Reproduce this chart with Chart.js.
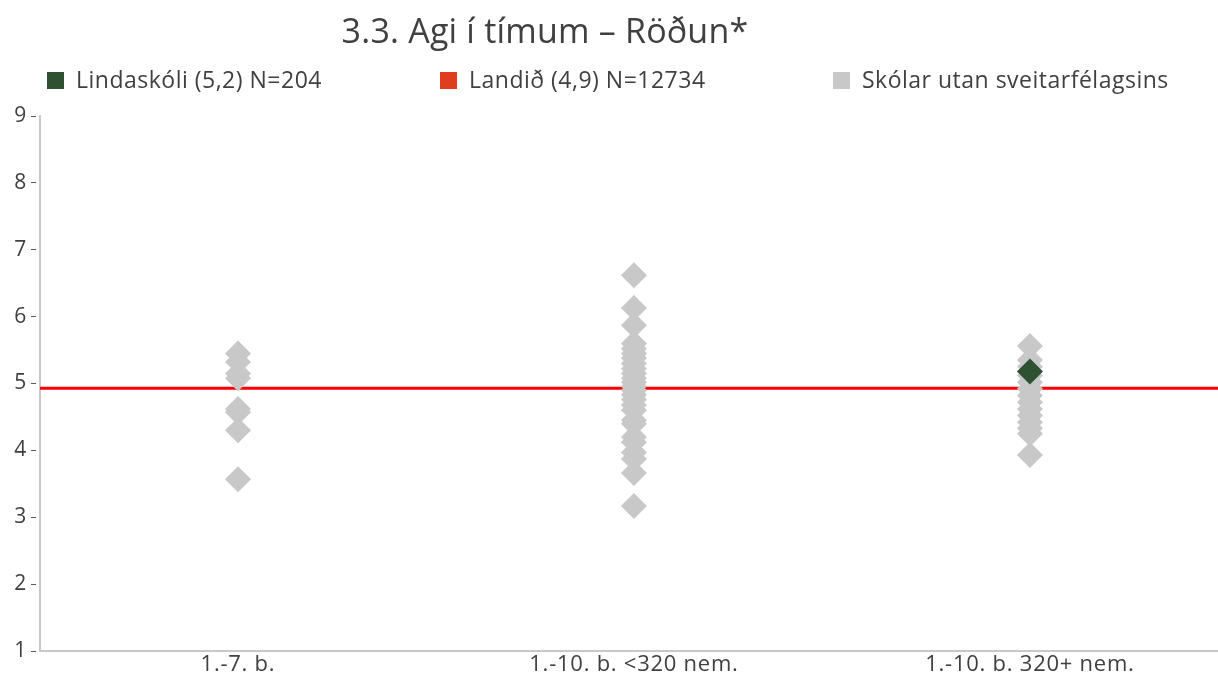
<!DOCTYPE html>
<html>
<head>
<meta charset="utf-8">
<script src="https://cdn.jsdelivr.net/npm/chart.js@4/dist/chart.umd.min.js"></script>
<style>
  html, body { margin: 0; padding: 0; background: #fff; overflow: hidden; }
  #wrap { width: 1218px; height: 678px; }
</style>
</head>
<body>
<div id="wrap"><canvas id="c" width="1218" height="678"></canvas></div>
<script>
// ---- data ----
const title = "3.3. Agi í tímum – Röðun*";
const categories = ["1.-7. b.", "1.-10. b. <320 nem.", "1.-10. b. 320+ nem."];
const legendLabels = ["Lindaskóli (5,2) N=204", "Landið (4,9) N=12734", "Skólar utan sveitarfélagsins"];
const yTicks = [1, 2, 3, 4, 5, 6, 7, 8, 9];

// Other schools (grey diamonds), one list per category
const others1 = [5.45, 5.32, 5.15, 5.08, 4.62, 4.57, 4.30, 3.57];
const others2 = [6.62, 6.13, 5.87, 5.60, 5.52, 5.45, 5.38, 5.30, 5.22, 5.15, 5.08, 5.02, 4.96, 4.90,
                 4.83, 4.76, 4.68, 4.60, 4.45, 4.40, 4.20, 4.12, 3.97, 3.87, 3.66, 3.17];
const others3 = [5.56, 5.35, 5.25, 5.12, 5.02, 4.92, 4.82, 4.72, 4.62, 4.52, 4.42, 4.33, 4.25, 3.93];
// Lindaskóli (green diamond)
const schoolCategory = 2;
const schoolValue = 5.18;
// National average (red line)
const nationalValue = 4.93;

// ---- build ----
const othersAll = [others1, others2, others3];
const greyPoints = [];
othersAll.forEach((arr, i) => arr.forEach(v => greyPoints.push({ x: i, y: v })));
const xMin = -0.5, xMax = 2.475;   // plot area runs slightly past the page edge, as in the original

const TEXT = '#404040';
const FONT = '"Open Sans", sans-serif';
const colGreen = '#2e5131', colRed = '#e03c1e', colGrey = '#c8c8c8';

const spacingPlugin = {
  id: 'spacing',
  beforeDraw(chart) { chart.ctx.letterSpacing = '0.75px'; }
};

const headerPlugin = {
  id: 'header',
  afterDraw(chart) {
    const ctx = chart.ctx;
    ctx.save();
    ctx.fillStyle = TEXT;
    ctx.letterSpacing = '0.2px';
    ctx.font = '34px ' + FONT;
    ctx.textAlign = 'center';
    ctx.textBaseline = 'alphabetic';
    ctx.fillText(title, 545, 43);
    const xs = [47, 440, 833];
    const cols = [colGreen, colRed, colGrey];
    ctx.letterSpacing = '0.5px';
    ctx.font = '23px ' + FONT;
    ctx.textAlign = 'left';
    legendLabels.forEach((t, i) => {
      ctx.fillStyle = cols[i];
      ctx.fillRect(xs[i], 72, 17, 17);
      ctx.fillStyle = TEXT;
      ctx.fillText(t, xs[i] + 29, 88);
    });
    ctx.restore();
  }
};

new Chart(document.getElementById('c'), {
  type: 'scatter',
  data: {
    datasets: [
      { label: legendLabels[0], data: [{ x: schoolCategory, y: schoolValue }], pointStyle: 'rectRot',
        pointRadius: 13, pointHoverRadius: 13, backgroundColor: colGreen, borderWidth: 0, order: 0 },
      { label: legendLabels[2], data: greyPoints, pointStyle: 'rectRot',
        pointRadius: 13, pointHoverRadius: 13, backgroundColor: colGrey, borderWidth: 0, order: 1 },
      { label: legendLabels[1], type: 'line', data: [{ x: xMin, y: nationalValue }, { x: xMax, y: nationalValue }],
        borderColor: '#ff0000', borderWidth: 3, pointRadius: 0, fill: false, order: 2 }
    ]
  },
  options: {
    responsive: false,
    animation: false,
    layout: { autoPadding: false, padding: { top: 116, left: 0, right: 0, bottom: 0 } },
    plugins: { legend: { display: false }, tooltip: { enabled: false }, title: { display: false } },
    scales: {
      x: {
        type: 'linear', min: xMin, max: xMax,
        afterBuildTicks(scale) { scale.ticks = categories.map((c, i) => ({ value: i })); },
        afterFit(scale) { scale.height = 27; scale.paddingLeft = 0; scale.paddingRight = 0; },
        ticks: { callback: (v) => categories[v], color: TEXT, font: { size: 22, family: FONT }, padding: 1, maxRotation: 0, autoSkip: false },
        grid: { display: true, drawOnChartArea: false, drawTicks: false },
        border: { display: true, color: colGrey, width: 2 }
      },
      y: {
        min: 1, max: 9,
        afterBuildTicks(scale) { scale.ticks = yTicks.map(v => ({ value: v })); },
        afterFit(scale) { scale.width = 40; },
        ticks: { color: TEXT, font: { size: 21, family: FONT }, padding: 4 },
        grid: { drawOnChartArea: false, drawTicks: true, tickLength: 9, tickColor: '#595959', tickWidth: 1, tickBorderDash: [5, 30] },
        border: { display: true, color: colGrey, width: 2 }
      }
    }
  },
  plugins: [spacingPlugin, headerPlugin]
});
</script>
</body>
</html>
